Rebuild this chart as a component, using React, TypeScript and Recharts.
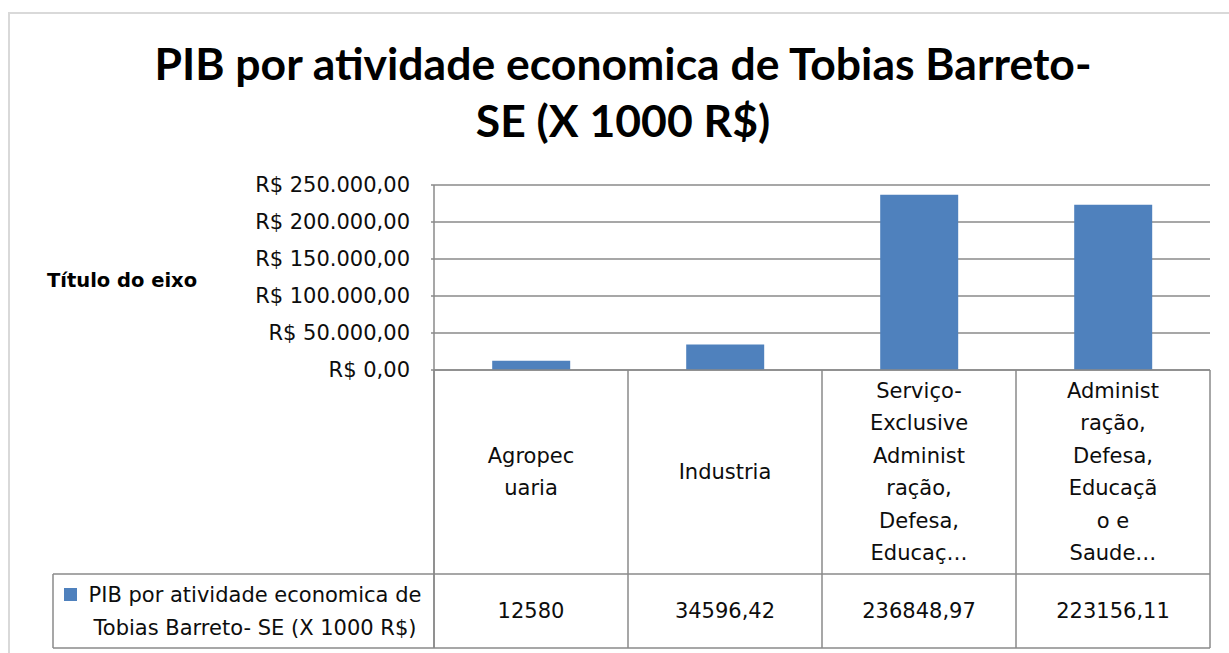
import React from "react";
import { BarChart, Bar, XAxis, YAxis, CartesianGrid, Customized } from "recharts";

const categories = [
  "Agropecuaria",
  "Industria",
  "Serviço-Exclusive Administração, Defesa, Educação...",
  "Administração, Defesa, Educação e Saude...",
];
const categoryLines = [
  ["Agropec", "uaria"],
  ["Industria"],
  ["Serviço-", "Exclusive", "Administ", "ração,", "Defesa,", "Educaç…"],
  ["Administ", "ração,", "Defesa,", "Educaçã", "o e", "Saude…"],
];
const values = [12580, 34596.42, 236848.97, 223156.11];
const valueLabels = ["12580", "34596,42", "236848,97", "223156,11"];
const yTicks = [0, 50000, 100000, 150000, 200000, 250000];
const seriesName = "PIB por atividade economica de Tobias Barreto- SE (X 1000 R$)";
const legendLines = ["PIB por atividade economica de", "Tobias Barreto- SE (X 1000 R$)"];
const titleLines = ["PIB por atividade economica de Tobias Barreto-", "SE (X 1000 R$)"];
const axisTitle = "Título do eixo";

const data = categories.map((c, i) => ({ name: c, value: values[i] }));

const W = 1229;
const H = 653;
const PLOT_LEFT = 434;
const PLOT_RIGHT = 1210;
const PLOT_TOP = 185;
const AXIS_Y = 370;
const ROW_MID = 574;
const ROW_BOTTOM = 648;
const LEGEND_LEFT = 53;
const FONT = "'DejaVu Sans', sans-serif";
const TITLE_FONT = "Lato, sans-serif";
const FS = 21;
const LINE = "#8a8a8a";
const BAR = "#4F81BD";
const TXT = "#0d0d0d";

const fmtBRL = (v: number) => {
  const s = Math.round(v).toString().replace(/\B(?=(\d{3})+(?!\d))/g, ".");
  return `R$ ${s},00`;
};

const CategoryTick = (props: any) => {
  const { x, y, payload } = props;
  const i = payload.index;
  const bw = (PLOT_RIGHT - PLOT_LEFT) / categories.length;
  const lines = categoryLines[i] || [];
  const headerMid = (y + ROW_MID) / 2;
  const lh = 32.5;
  const first = headerMid - ((lines.length - 1) * lh) / 2;
  return (
    <g>
      <line x1={x - bw / 2} x2={x - bw / 2} y1={y} y2={ROW_BOTTOM} stroke={LINE} strokeWidth={1.5} />
      {i === categories.length - 1 && (
        <line x1={x + bw / 2} x2={x + bw / 2} y1={y} y2={ROW_BOTTOM} stroke={LINE} strokeWidth={1.5} />
      )}
      <line x1={x - bw / 2} x2={x + bw / 2} y1={ROW_MID} y2={ROW_MID} stroke={LINE} strokeWidth={1.5} />
      <line x1={x - bw / 2} x2={x + bw / 2} y1={ROW_BOTTOM} y2={ROW_BOTTOM} stroke={LINE} strokeWidth={1.5} />
      {lines.map((t, k) => (
        <text key={k} x={x} y={first + k * lh} textAnchor="middle" dominantBaseline="central" fontSize={FS} fontFamily={FONT} fill={TXT}>
          {t}
        </text>
      ))}
      <text x={x} y={(ROW_MID + ROW_BOTTOM) / 2} textAnchor="middle" dominantBaseline="central" fontSize={FS} fontFamily={FONT} fill={TXT}>
        {valueLabels[i]}
      </text>
    </g>
  );
};

const Overlay = () => (
  <g>
    {titleLines.map((t, k) => (
      <text key={k} x={623} y={80 + k * 57} textAnchor="middle" fontSize={44.5} fontWeight="bold" fontFamily={TITLE_FONT} fill="#000">
        {t}
      </text>
    ))}
    <line x1={LEGEND_LEFT} x2={LEGEND_LEFT} y1={ROW_MID} y2={ROW_BOTTOM} stroke={LINE} strokeWidth={1.5} />
    <line x1={LEGEND_LEFT} x2={PLOT_LEFT} y1={ROW_MID} y2={ROW_MID} stroke={LINE} strokeWidth={1.5} />
    <line x1={LEGEND_LEFT} x2={PLOT_LEFT} y1={ROW_BOTTOM} y2={ROW_BOTTOM} stroke={LINE} strokeWidth={1.5} />
    <line x1={PLOT_LEFT} x2={PLOT_LEFT} y1={AXIS_Y} y2={ROW_BOTTOM} stroke={LINE} strokeWidth={1.5} />
    <rect x={64} y={588} width={13} height={13} fill={BAR} />
    <text x={255} y={595} textAnchor="middle" dominantBaseline="central" fontSize={FS} fontFamily={FONT} fill={TXT}>
      {legendLines[0]}
    </text>
    <text x={255} y={628} textAnchor="middle" dominantBaseline="central" fontSize={FS} fontFamily={FONT} fill={TXT}>
      {legendLines[1]}
    </text>
  </g>
);

export default function App() {
  return (
    <div style={{ position: "fixed", left: 0, top: 0, width: W, height: H, overflow: "hidden", background: "#fff" }}>
      <div style={{ position: "absolute", left: 8, top: 12, width: 1400, height: 800, border: "2px solid #d9d9d9", boxSizing: "border-box" }} />
      <div style={{ position: "absolute", left: 0, top: 0 }}>
        <BarChart width={W} height={H} data={data} margin={{ top: PLOT_TOP, right: W - PLOT_RIGHT, left: 0, bottom: 0 }} barCategoryGap="30%">
          <CartesianGrid horizontal vertical={false} stroke={LINE} strokeWidth={1.5} />
          <YAxis
            width={PLOT_LEFT}
            domain={[0, 250000]}
            ticks={yTicks}
            tickFormatter={fmtBRL}
            axisLine={{ stroke: LINE, strokeWidth: 1.5 }}
            tickLine={{ stroke: LINE, strokeWidth: 1.5 }}
            tickSize={3}
            tickMargin={21}
            tick={{ fontSize: FS, fontFamily: FONT, fill: TXT }}
            label={{ value: axisTitle, position: "insideLeft", offset: 47, dy: 3, fontSize: 19.5, fontWeight: "bold", fontFamily: FONT, fill: "#000" }}
            interval={0}
          />
          <XAxis
            dataKey="name"
            height={H - AXIS_Y}
            axisLine={{ stroke: LINE, strokeWidth: 1.5 }}
            tickLine={false}
            tickSize={0}
            tickMargin={0}
            interval={0}
            tick={<CategoryTick />}
          />
          <Bar dataKey="value" name={seriesName} fill={BAR} isAnimationActive={false} />
          <Customized component={<Overlay />} />
        </BarChart>
      </div>
    </div>
  );
}
